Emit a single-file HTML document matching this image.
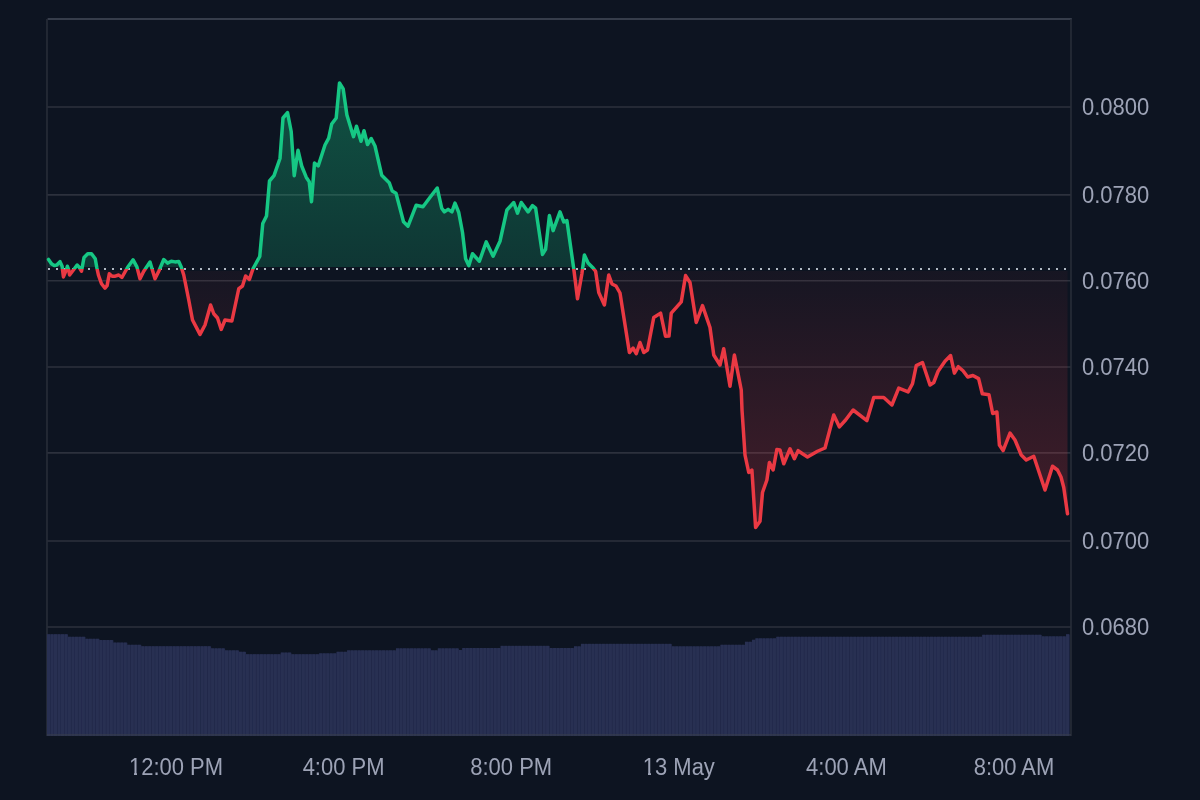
<!DOCTYPE html>
<html><head><meta charset="utf-8"><style>
html,body{margin:0;padding:0;width:1200px;height:800px;overflow:hidden;background:#0d1421;}
svg{position:absolute;left:0;top:0;}
.l{position:absolute;font-family:"Liberation Sans",sans-serif;font-size:22px;color:#9da3b6;white-space:nowrap;line-height:26px;transform:translateZ(0) scaleY(1.06);transform-origin:50% 60%;}
</style></head><body>
<svg width="1200" height="800" viewBox="0 0 1200 800">
<defs>
<linearGradient id="gt" gradientUnits="userSpaceOnUse" x1="0" y1="19" x2="0" y2="269.0">
<stop offset="0" stop-color="#16c784" stop-opacity="0.40"/>
<stop offset="1" stop-color="#16c784" stop-opacity="0.19"/>
</linearGradient>
<linearGradient id="gb" gradientUnits="userSpaceOnUse" x1="0" y1="269.0" x2="0" y2="528">
<stop offset="0" stop-color="#ea3943" stop-opacity="0.04"/>
<stop offset="1" stop-color="#ea3943" stop-opacity="0.25"/>
</linearGradient>
<clipPath id="ct"><rect x="0" y="0" width="1200" height="269.0"/></clipPath>
<clipPath id="cft"><rect x="0" y="0" width="1200" height="267"/></clipPath>
<clipPath id="cfb"><rect x="0" y="271" width="1200" height="529"/></clipPath>
<clipPath id="cb"><rect x="0" y="269.0" width="1200" height="531.0"/></clipPath>
</defs>
<g stroke="#2c313d" stroke-width="1.6" fill="none">
<line x1="47" y1="107" x2="1071" y2="107"/><line x1="47" y1="194.9" x2="1071" y2="194.9"/><line x1="47" y1="280.75" x2="1071" y2="280.75"/><line x1="47" y1="367" x2="1071" y2="367"/><line x1="47" y1="452.9" x2="1071" y2="452.9"/><line x1="47" y1="541" x2="1071" y2="541"/><line x1="47" y1="627" x2="1071" y2="627"/>
</g>
<line x1="47.6" y1="19" x2="1071.8" y2="19" stroke="#454b5a" stroke-width="1.6"/>
<line x1="47" y1="19" x2="47" y2="736" stroke="#282d39" stroke-width="1.6"/>
<line x1="1071" y1="19" x2="1071" y2="736" stroke="#282d39" stroke-width="1.6"/>
<g fill="#20274a">
<rect x="46.90" y="634.5" width="3.69" height="101.5"/>
<rect x="50.39" y="634.5" width="3.69" height="101.5"/>
<rect x="53.88" y="634.5" width="3.69" height="101.5"/>
<rect x="57.37" y="634.5" width="3.69" height="101.5"/>
<rect x="60.86" y="634.5" width="3.69" height="101.5"/>
<rect x="64.35" y="634.5" width="3.69" height="101.5"/>
<rect x="67.84" y="637.0" width="3.69" height="99.0"/>
<rect x="71.33" y="637.0" width="3.69" height="99.0"/>
<rect x="74.82" y="637.0" width="3.69" height="99.0"/>
<rect x="78.31" y="637.0" width="3.69" height="99.0"/>
<rect x="81.80" y="637.0" width="3.69" height="99.0"/>
<rect x="85.29" y="639.0" width="3.69" height="97.0"/>
<rect x="88.78" y="639.0" width="3.69" height="97.0"/>
<rect x="92.27" y="639.0" width="3.69" height="97.0"/>
<rect x="95.76" y="639.0" width="3.69" height="97.0"/>
<rect x="99.25" y="640.3" width="3.69" height="95.7"/>
<rect x="102.74" y="640.3" width="3.69" height="95.7"/>
<rect x="106.23" y="640.3" width="3.69" height="95.7"/>
<rect x="109.72" y="640.3" width="3.69" height="95.7"/>
<rect x="113.21" y="642.8" width="3.69" height="93.2"/>
<rect x="116.70" y="642.8" width="3.69" height="93.2"/>
<rect x="120.19" y="642.8" width="3.69" height="93.2"/>
<rect x="123.68" y="642.8" width="3.69" height="93.2"/>
<rect x="127.17" y="645.0" width="3.69" height="91.0"/>
<rect x="130.66" y="645.0" width="3.69" height="91.0"/>
<rect x="134.15" y="645.0" width="3.69" height="91.0"/>
<rect x="137.64" y="645.0" width="3.69" height="91.0"/>
<rect x="141.13" y="646.5" width="3.69" height="89.5"/>
<rect x="144.62" y="646.5" width="3.69" height="89.5"/>
<rect x="148.11" y="646.5" width="3.69" height="89.5"/>
<rect x="151.60" y="646.5" width="3.69" height="89.5"/>
<rect x="155.09" y="646.5" width="3.69" height="89.5"/>
<rect x="158.58" y="646.5" width="3.69" height="89.5"/>
<rect x="162.07" y="646.5" width="3.69" height="89.5"/>
<rect x="165.56" y="646.5" width="3.69" height="89.5"/>
<rect x="169.05" y="646.5" width="3.69" height="89.5"/>
<rect x="172.54" y="646.5" width="3.69" height="89.5"/>
<rect x="176.03" y="646.5" width="3.69" height="89.5"/>
<rect x="179.52" y="646.5" width="3.69" height="89.5"/>
<rect x="183.01" y="646.5" width="3.69" height="89.5"/>
<rect x="186.50" y="646.5" width="3.69" height="89.5"/>
<rect x="189.99" y="646.5" width="3.69" height="89.5"/>
<rect x="193.48" y="646.5" width="3.69" height="89.5"/>
<rect x="196.97" y="646.5" width="3.69" height="89.5"/>
<rect x="200.46" y="646.5" width="3.69" height="89.5"/>
<rect x="203.95" y="646.5" width="3.69" height="89.5"/>
<rect x="207.44" y="646.5" width="3.69" height="89.5"/>
<rect x="210.93" y="648.6" width="3.69" height="87.4"/>
<rect x="214.42" y="648.6" width="3.69" height="87.4"/>
<rect x="217.91" y="648.6" width="3.69" height="87.4"/>
<rect x="221.40" y="648.6" width="3.69" height="87.4"/>
<rect x="224.89" y="650.6" width="3.69" height="85.4"/>
<rect x="228.38" y="650.6" width="3.69" height="85.4"/>
<rect x="231.87" y="650.6" width="3.69" height="85.4"/>
<rect x="235.36" y="650.6" width="3.69" height="85.4"/>
<rect x="238.85" y="652.0" width="3.69" height="84.0"/>
<rect x="242.34" y="652.0" width="3.69" height="84.0"/>
<rect x="245.83" y="654.5" width="3.69" height="81.5"/>
<rect x="249.32" y="654.5" width="3.69" height="81.5"/>
<rect x="252.81" y="654.5" width="3.69" height="81.5"/>
<rect x="256.30" y="654.5" width="3.69" height="81.5"/>
<rect x="259.79" y="654.5" width="3.69" height="81.5"/>
<rect x="263.28" y="654.5" width="3.69" height="81.5"/>
<rect x="266.77" y="654.5" width="3.69" height="81.5"/>
<rect x="270.26" y="654.5" width="3.69" height="81.5"/>
<rect x="273.75" y="654.5" width="3.69" height="81.5"/>
<rect x="277.24" y="654.5" width="3.69" height="81.5"/>
<rect x="280.73" y="652.8" width="3.69" height="83.2"/>
<rect x="284.22" y="652.8" width="3.69" height="83.2"/>
<rect x="287.71" y="652.8" width="3.69" height="83.2"/>
<rect x="291.20" y="654.5" width="3.69" height="81.5"/>
<rect x="294.69" y="654.5" width="3.69" height="81.5"/>
<rect x="298.18" y="654.5" width="3.69" height="81.5"/>
<rect x="301.67" y="654.5" width="3.69" height="81.5"/>
<rect x="305.16" y="654.5" width="3.69" height="81.5"/>
<rect x="308.65" y="654.5" width="3.69" height="81.5"/>
<rect x="312.14" y="654.5" width="3.69" height="81.5"/>
<rect x="315.63" y="654.5" width="3.69" height="81.5"/>
<rect x="319.12" y="653.6" width="3.69" height="82.4"/>
<rect x="322.61" y="653.6" width="3.69" height="82.4"/>
<rect x="326.10" y="653.6" width="3.69" height="82.4"/>
<rect x="329.59" y="653.6" width="3.69" height="82.4"/>
<rect x="333.08" y="653.6" width="3.69" height="82.4"/>
<rect x="336.57" y="652.0" width="3.69" height="84.0"/>
<rect x="340.06" y="652.0" width="3.69" height="84.0"/>
<rect x="343.55" y="652.0" width="3.69" height="84.0"/>
<rect x="347.04" y="650.6" width="3.69" height="85.4"/>
<rect x="350.53" y="650.6" width="3.69" height="85.4"/>
<rect x="354.02" y="650.6" width="3.69" height="85.4"/>
<rect x="357.51" y="650.6" width="3.69" height="85.4"/>
<rect x="361.00" y="650.6" width="3.69" height="85.4"/>
<rect x="364.49" y="650.6" width="3.69" height="85.4"/>
<rect x="367.98" y="650.6" width="3.69" height="85.4"/>
<rect x="371.47" y="650.6" width="3.69" height="85.4"/>
<rect x="374.96" y="650.6" width="3.69" height="85.4"/>
<rect x="378.45" y="650.6" width="3.69" height="85.4"/>
<rect x="381.94" y="650.6" width="3.69" height="85.4"/>
<rect x="385.43" y="650.6" width="3.69" height="85.4"/>
<rect x="388.92" y="650.6" width="3.69" height="85.4"/>
<rect x="392.41" y="650.6" width="3.69" height="85.4"/>
<rect x="395.90" y="648.6" width="3.69" height="87.4"/>
<rect x="399.39" y="648.6" width="3.69" height="87.4"/>
<rect x="402.88" y="648.6" width="3.69" height="87.4"/>
<rect x="406.37" y="648.6" width="3.69" height="87.4"/>
<rect x="409.86" y="648.6" width="3.69" height="87.4"/>
<rect x="413.35" y="648.6" width="3.69" height="87.4"/>
<rect x="416.84" y="648.6" width="3.69" height="87.4"/>
<rect x="420.33" y="648.6" width="3.69" height="87.4"/>
<rect x="423.82" y="648.6" width="3.69" height="87.4"/>
<rect x="427.31" y="648.6" width="3.69" height="87.4"/>
<rect x="430.80" y="650.6" width="3.69" height="85.4"/>
<rect x="434.29" y="650.6" width="3.69" height="85.4"/>
<rect x="437.78" y="648.6" width="3.69" height="87.4"/>
<rect x="441.27" y="648.6" width="3.69" height="87.4"/>
<rect x="444.76" y="648.6" width="3.69" height="87.4"/>
<rect x="448.25" y="648.6" width="3.69" height="87.4"/>
<rect x="451.74" y="648.6" width="3.69" height="87.4"/>
<rect x="455.23" y="648.6" width="3.69" height="87.4"/>
<rect x="458.72" y="650.3" width="3.69" height="85.7"/>
<rect x="462.21" y="648.3" width="3.69" height="87.7"/>
<rect x="465.70" y="648.3" width="3.69" height="87.7"/>
<rect x="469.19" y="648.3" width="3.69" height="87.7"/>
<rect x="472.68" y="648.3" width="3.69" height="87.7"/>
<rect x="476.17" y="648.3" width="3.69" height="87.7"/>
<rect x="479.66" y="648.3" width="3.69" height="87.7"/>
<rect x="483.15" y="648.3" width="3.69" height="87.7"/>
<rect x="486.64" y="648.3" width="3.69" height="87.7"/>
<rect x="490.13" y="648.3" width="3.69" height="87.7"/>
<rect x="493.62" y="648.3" width="3.69" height="87.7"/>
<rect x="497.11" y="648.3" width="3.69" height="87.7"/>
<rect x="500.60" y="646.1" width="3.69" height="89.9"/>
<rect x="504.09" y="646.1" width="3.69" height="89.9"/>
<rect x="507.58" y="646.1" width="3.69" height="89.9"/>
<rect x="511.07" y="646.1" width="3.69" height="89.9"/>
<rect x="514.56" y="646.1" width="3.69" height="89.9"/>
<rect x="518.05" y="646.1" width="3.69" height="89.9"/>
<rect x="521.54" y="646.1" width="3.69" height="89.9"/>
<rect x="525.03" y="646.1" width="3.69" height="89.9"/>
<rect x="528.52" y="646.1" width="3.69" height="89.9"/>
<rect x="532.01" y="646.1" width="3.69" height="89.9"/>
<rect x="535.50" y="646.1" width="3.69" height="89.9"/>
<rect x="538.99" y="646.1" width="3.69" height="89.9"/>
<rect x="542.48" y="646.1" width="3.69" height="89.9"/>
<rect x="545.97" y="646.1" width="3.69" height="89.9"/>
<rect x="549.46" y="648.3" width="3.69" height="87.7"/>
<rect x="552.95" y="648.3" width="3.69" height="87.7"/>
<rect x="556.44" y="648.3" width="3.69" height="87.7"/>
<rect x="559.93" y="648.3" width="3.69" height="87.7"/>
<rect x="563.42" y="648.3" width="3.69" height="87.7"/>
<rect x="566.91" y="648.3" width="3.69" height="87.7"/>
<rect x="570.40" y="648.3" width="3.69" height="87.7"/>
<rect x="573.89" y="646.6" width="3.69" height="89.4"/>
<rect x="577.38" y="646.6" width="3.69" height="89.4"/>
<rect x="580.87" y="644.1" width="3.69" height="91.9"/>
<rect x="584.36" y="644.1" width="3.69" height="91.9"/>
<rect x="587.85" y="644.1" width="3.69" height="91.9"/>
<rect x="591.34" y="644.1" width="3.69" height="91.9"/>
<rect x="594.83" y="644.1" width="3.69" height="91.9"/>
<rect x="598.32" y="644.1" width="3.69" height="91.9"/>
<rect x="601.81" y="644.1" width="3.69" height="91.9"/>
<rect x="605.30" y="644.1" width="3.69" height="91.9"/>
<rect x="608.79" y="644.1" width="3.69" height="91.9"/>
<rect x="612.28" y="644.1" width="3.69" height="91.9"/>
<rect x="615.77" y="644.1" width="3.69" height="91.9"/>
<rect x="619.26" y="644.1" width="3.69" height="91.9"/>
<rect x="622.75" y="644.1" width="3.69" height="91.9"/>
<rect x="626.24" y="644.1" width="3.69" height="91.9"/>
<rect x="629.73" y="644.1" width="3.69" height="91.9"/>
<rect x="633.22" y="644.1" width="3.69" height="91.9"/>
<rect x="636.71" y="644.1" width="3.69" height="91.9"/>
<rect x="640.20" y="644.1" width="3.69" height="91.9"/>
<rect x="643.69" y="644.1" width="3.69" height="91.9"/>
<rect x="647.18" y="644.1" width="3.69" height="91.9"/>
<rect x="650.67" y="644.1" width="3.69" height="91.9"/>
<rect x="654.16" y="644.1" width="3.69" height="91.9"/>
<rect x="657.65" y="644.1" width="3.69" height="91.9"/>
<rect x="661.14" y="644.1" width="3.69" height="91.9"/>
<rect x="664.63" y="644.1" width="3.69" height="91.9"/>
<rect x="668.12" y="644.1" width="3.69" height="91.9"/>
<rect x="671.61" y="646.6" width="3.69" height="89.4"/>
<rect x="675.10" y="646.6" width="3.69" height="89.4"/>
<rect x="678.59" y="646.6" width="3.69" height="89.4"/>
<rect x="682.08" y="646.6" width="3.69" height="89.4"/>
<rect x="685.57" y="646.6" width="3.69" height="89.4"/>
<rect x="689.06" y="646.6" width="3.69" height="89.4"/>
<rect x="692.55" y="646.6" width="3.69" height="89.4"/>
<rect x="696.04" y="646.6" width="3.69" height="89.4"/>
<rect x="699.53" y="646.6" width="3.69" height="89.4"/>
<rect x="703.02" y="646.6" width="3.69" height="89.4"/>
<rect x="706.51" y="646.6" width="3.69" height="89.4"/>
<rect x="710.00" y="646.6" width="3.69" height="89.4"/>
<rect x="713.49" y="646.6" width="3.69" height="89.4"/>
<rect x="716.98" y="646.6" width="3.69" height="89.4"/>
<rect x="720.47" y="645.0" width="3.69" height="91.0"/>
<rect x="723.96" y="645.0" width="3.69" height="91.0"/>
<rect x="727.45" y="645.0" width="3.69" height="91.0"/>
<rect x="730.94" y="645.0" width="3.69" height="91.0"/>
<rect x="734.43" y="645.0" width="3.69" height="91.0"/>
<rect x="737.92" y="645.0" width="3.69" height="91.0"/>
<rect x="741.41" y="645.0" width="3.69" height="91.0"/>
<rect x="744.90" y="642.0" width="3.69" height="94.0"/>
<rect x="748.39" y="642.0" width="3.69" height="94.0"/>
<rect x="751.88" y="640.0" width="3.69" height="96.0"/>
<rect x="755.37" y="638.6" width="3.69" height="97.4"/>
<rect x="758.86" y="638.6" width="3.69" height="97.4"/>
<rect x="762.35" y="638.6" width="3.69" height="97.4"/>
<rect x="765.84" y="638.6" width="3.69" height="97.4"/>
<rect x="769.33" y="638.6" width="3.69" height="97.4"/>
<rect x="772.82" y="638.6" width="3.69" height="97.4"/>
<rect x="776.31" y="637.0" width="3.69" height="99.0"/>
<rect x="779.80" y="637.0" width="3.69" height="99.0"/>
<rect x="783.29" y="637.0" width="3.69" height="99.0"/>
<rect x="786.78" y="637.0" width="3.69" height="99.0"/>
<rect x="790.27" y="637.0" width="3.69" height="99.0"/>
<rect x="793.76" y="637.0" width="3.69" height="99.0"/>
<rect x="797.25" y="637.0" width="3.69" height="99.0"/>
<rect x="800.74" y="637.0" width="3.69" height="99.0"/>
<rect x="804.23" y="637.0" width="3.69" height="99.0"/>
<rect x="807.72" y="637.0" width="3.69" height="99.0"/>
<rect x="811.21" y="637.0" width="3.69" height="99.0"/>
<rect x="814.70" y="637.0" width="3.69" height="99.0"/>
<rect x="818.19" y="637.0" width="3.69" height="99.0"/>
<rect x="821.68" y="637.0" width="3.69" height="99.0"/>
<rect x="825.17" y="637.0" width="3.69" height="99.0"/>
<rect x="828.66" y="637.0" width="3.69" height="99.0"/>
<rect x="832.15" y="637.0" width="3.69" height="99.0"/>
<rect x="835.64" y="637.0" width="3.69" height="99.0"/>
<rect x="839.13" y="637.0" width="3.69" height="99.0"/>
<rect x="842.62" y="637.0" width="3.69" height="99.0"/>
<rect x="846.11" y="637.0" width="3.69" height="99.0"/>
<rect x="849.60" y="637.0" width="3.69" height="99.0"/>
<rect x="853.09" y="637.0" width="3.69" height="99.0"/>
<rect x="856.58" y="637.0" width="3.69" height="99.0"/>
<rect x="860.07" y="637.0" width="3.69" height="99.0"/>
<rect x="863.56" y="637.0" width="3.69" height="99.0"/>
<rect x="867.05" y="637.0" width="3.69" height="99.0"/>
<rect x="870.54" y="637.0" width="3.69" height="99.0"/>
<rect x="874.03" y="637.0" width="3.69" height="99.0"/>
<rect x="877.52" y="637.0" width="3.69" height="99.0"/>
<rect x="881.01" y="637.0" width="3.69" height="99.0"/>
<rect x="884.50" y="637.0" width="3.69" height="99.0"/>
<rect x="887.99" y="637.0" width="3.69" height="99.0"/>
<rect x="891.48" y="637.0" width="3.69" height="99.0"/>
<rect x="894.97" y="637.0" width="3.69" height="99.0"/>
<rect x="898.46" y="637.0" width="3.69" height="99.0"/>
<rect x="901.95" y="637.0" width="3.69" height="99.0"/>
<rect x="905.44" y="637.0" width="3.69" height="99.0"/>
<rect x="908.93" y="637.0" width="3.69" height="99.0"/>
<rect x="912.42" y="637.0" width="3.69" height="99.0"/>
<rect x="915.91" y="637.0" width="3.69" height="99.0"/>
<rect x="919.40" y="637.0" width="3.69" height="99.0"/>
<rect x="922.89" y="637.0" width="3.69" height="99.0"/>
<rect x="926.38" y="637.0" width="3.69" height="99.0"/>
<rect x="929.87" y="637.0" width="3.69" height="99.0"/>
<rect x="933.36" y="637.0" width="3.69" height="99.0"/>
<rect x="936.85" y="637.0" width="3.69" height="99.0"/>
<rect x="940.34" y="637.0" width="3.69" height="99.0"/>
<rect x="943.83" y="637.0" width="3.69" height="99.0"/>
<rect x="947.32" y="637.0" width="3.69" height="99.0"/>
<rect x="950.81" y="637.0" width="3.69" height="99.0"/>
<rect x="954.30" y="637.0" width="3.69" height="99.0"/>
<rect x="957.79" y="637.0" width="3.69" height="99.0"/>
<rect x="961.28" y="637.0" width="3.69" height="99.0"/>
<rect x="964.77" y="637.0" width="3.69" height="99.0"/>
<rect x="968.26" y="637.0" width="3.69" height="99.0"/>
<rect x="971.75" y="637.0" width="3.69" height="99.0"/>
<rect x="975.24" y="637.0" width="3.69" height="99.0"/>
<rect x="978.73" y="637.0" width="3.69" height="99.0"/>
<rect x="982.22" y="635.0" width="3.69" height="101.0"/>
<rect x="985.71" y="635.0" width="3.69" height="101.0"/>
<rect x="989.20" y="635.0" width="3.69" height="101.0"/>
<rect x="992.69" y="635.0" width="3.69" height="101.0"/>
<rect x="996.18" y="635.0" width="3.69" height="101.0"/>
<rect x="999.67" y="635.0" width="3.69" height="101.0"/>
<rect x="1003.16" y="635.0" width="3.69" height="101.0"/>
<rect x="1006.65" y="635.0" width="3.69" height="101.0"/>
<rect x="1010.14" y="635.0" width="3.69" height="101.0"/>
<rect x="1013.63" y="635.0" width="3.69" height="101.0"/>
<rect x="1017.12" y="635.0" width="3.69" height="101.0"/>
<rect x="1020.61" y="635.0" width="3.69" height="101.0"/>
<rect x="1024.10" y="635.0" width="3.69" height="101.0"/>
<rect x="1027.59" y="635.0" width="3.69" height="101.0"/>
<rect x="1031.08" y="635.0" width="3.69" height="101.0"/>
<rect x="1034.57" y="635.0" width="3.69" height="101.0"/>
<rect x="1038.06" y="635.0" width="3.69" height="101.0"/>
<rect x="1041.55" y="636.6" width="3.69" height="99.4"/>
<rect x="1045.04" y="636.6" width="3.69" height="99.4"/>
<rect x="1048.53" y="636.6" width="3.69" height="99.4"/>
<rect x="1052.02" y="636.6" width="3.69" height="99.4"/>
<rect x="1055.51" y="636.6" width="3.69" height="99.4"/>
<rect x="1059.00" y="636.6" width="3.69" height="99.4"/>
<rect x="1062.49" y="636.6" width="3.69" height="99.4"/>
<rect x="1065.98" y="634.5" width="3.69" height="101.5"/>
</g>
<g fill="#283052">
<rect x="47.00" y="634.2" width="3.04" height="101.8"/>
<rect x="50.49" y="634.2" width="3.04" height="101.8"/>
<rect x="53.98" y="634.2" width="3.04" height="101.8"/>
<rect x="57.47" y="634.2" width="3.04" height="101.8"/>
<rect x="60.96" y="634.2" width="3.04" height="101.8"/>
<rect x="64.45" y="634.2" width="3.04" height="101.8"/>
<rect x="67.94" y="636.7" width="3.04" height="99.3"/>
<rect x="71.43" y="636.7" width="3.04" height="99.3"/>
<rect x="74.92" y="636.7" width="3.04" height="99.3"/>
<rect x="78.41" y="636.7" width="3.04" height="99.3"/>
<rect x="81.90" y="636.7" width="3.04" height="99.3"/>
<rect x="85.39" y="638.7" width="3.04" height="97.3"/>
<rect x="88.88" y="638.7" width="3.04" height="97.3"/>
<rect x="92.37" y="638.7" width="3.04" height="97.3"/>
<rect x="95.86" y="638.7" width="3.04" height="97.3"/>
<rect x="99.35" y="640.0" width="3.04" height="96.0"/>
<rect x="102.84" y="640.0" width="3.04" height="96.0"/>
<rect x="106.33" y="640.0" width="3.04" height="96.0"/>
<rect x="109.82" y="640.0" width="3.04" height="96.0"/>
<rect x="113.31" y="642.5" width="3.04" height="93.5"/>
<rect x="116.80" y="642.5" width="3.04" height="93.5"/>
<rect x="120.29" y="642.5" width="3.04" height="93.5"/>
<rect x="123.78" y="642.5" width="3.04" height="93.5"/>
<rect x="127.27" y="644.7" width="3.04" height="91.3"/>
<rect x="130.76" y="644.7" width="3.04" height="91.3"/>
<rect x="134.25" y="644.7" width="3.04" height="91.3"/>
<rect x="137.74" y="644.7" width="3.04" height="91.3"/>
<rect x="141.23" y="646.2" width="3.04" height="89.8"/>
<rect x="144.72" y="646.2" width="3.04" height="89.8"/>
<rect x="148.21" y="646.2" width="3.04" height="89.8"/>
<rect x="151.70" y="646.2" width="3.04" height="89.8"/>
<rect x="155.19" y="646.2" width="3.04" height="89.8"/>
<rect x="158.68" y="646.2" width="3.04" height="89.8"/>
<rect x="162.17" y="646.2" width="3.04" height="89.8"/>
<rect x="165.66" y="646.2" width="3.04" height="89.8"/>
<rect x="169.15" y="646.2" width="3.04" height="89.8"/>
<rect x="172.64" y="646.2" width="3.04" height="89.8"/>
<rect x="176.13" y="646.2" width="3.04" height="89.8"/>
<rect x="179.62" y="646.2" width="3.04" height="89.8"/>
<rect x="183.11" y="646.2" width="3.04" height="89.8"/>
<rect x="186.60" y="646.2" width="3.04" height="89.8"/>
<rect x="190.09" y="646.2" width="3.04" height="89.8"/>
<rect x="193.58" y="646.2" width="3.04" height="89.8"/>
<rect x="197.07" y="646.2" width="3.04" height="89.8"/>
<rect x="200.56" y="646.2" width="3.04" height="89.8"/>
<rect x="204.05" y="646.2" width="3.04" height="89.8"/>
<rect x="207.54" y="646.2" width="3.04" height="89.8"/>
<rect x="211.03" y="648.3" width="3.04" height="87.7"/>
<rect x="214.52" y="648.3" width="3.04" height="87.7"/>
<rect x="218.01" y="648.3" width="3.04" height="87.7"/>
<rect x="221.50" y="648.3" width="3.04" height="87.7"/>
<rect x="224.99" y="650.3" width="3.04" height="85.7"/>
<rect x="228.48" y="650.3" width="3.04" height="85.7"/>
<rect x="231.97" y="650.3" width="3.04" height="85.7"/>
<rect x="235.46" y="650.3" width="3.04" height="85.7"/>
<rect x="238.95" y="651.7" width="3.04" height="84.3"/>
<rect x="242.44" y="651.7" width="3.04" height="84.3"/>
<rect x="245.93" y="654.2" width="3.04" height="81.8"/>
<rect x="249.42" y="654.2" width="3.04" height="81.8"/>
<rect x="252.91" y="654.2" width="3.04" height="81.8"/>
<rect x="256.40" y="654.2" width="3.04" height="81.8"/>
<rect x="259.89" y="654.2" width="3.04" height="81.8"/>
<rect x="263.38" y="654.2" width="3.04" height="81.8"/>
<rect x="266.87" y="654.2" width="3.04" height="81.8"/>
<rect x="270.36" y="654.2" width="3.04" height="81.8"/>
<rect x="273.85" y="654.2" width="3.04" height="81.8"/>
<rect x="277.34" y="654.2" width="3.04" height="81.8"/>
<rect x="280.83" y="652.5" width="3.04" height="83.5"/>
<rect x="284.32" y="652.5" width="3.04" height="83.5"/>
<rect x="287.81" y="652.5" width="3.04" height="83.5"/>
<rect x="291.30" y="654.2" width="3.04" height="81.8"/>
<rect x="294.79" y="654.2" width="3.04" height="81.8"/>
<rect x="298.28" y="654.2" width="3.04" height="81.8"/>
<rect x="301.77" y="654.2" width="3.04" height="81.8"/>
<rect x="305.26" y="654.2" width="3.04" height="81.8"/>
<rect x="308.75" y="654.2" width="3.04" height="81.8"/>
<rect x="312.24" y="654.2" width="3.04" height="81.8"/>
<rect x="315.73" y="654.2" width="3.04" height="81.8"/>
<rect x="319.22" y="653.3" width="3.04" height="82.7"/>
<rect x="322.71" y="653.3" width="3.04" height="82.7"/>
<rect x="326.20" y="653.3" width="3.04" height="82.7"/>
<rect x="329.69" y="653.3" width="3.04" height="82.7"/>
<rect x="333.18" y="653.3" width="3.04" height="82.7"/>
<rect x="336.67" y="651.7" width="3.04" height="84.3"/>
<rect x="340.16" y="651.7" width="3.04" height="84.3"/>
<rect x="343.65" y="651.7" width="3.04" height="84.3"/>
<rect x="347.14" y="650.3" width="3.04" height="85.7"/>
<rect x="350.63" y="650.3" width="3.04" height="85.7"/>
<rect x="354.12" y="650.3" width="3.04" height="85.7"/>
<rect x="357.61" y="650.3" width="3.04" height="85.7"/>
<rect x="361.10" y="650.3" width="3.04" height="85.7"/>
<rect x="364.59" y="650.3" width="3.04" height="85.7"/>
<rect x="368.08" y="650.3" width="3.04" height="85.7"/>
<rect x="371.57" y="650.3" width="3.04" height="85.7"/>
<rect x="375.06" y="650.3" width="3.04" height="85.7"/>
<rect x="378.55" y="650.3" width="3.04" height="85.7"/>
<rect x="382.04" y="650.3" width="3.04" height="85.7"/>
<rect x="385.53" y="650.3" width="3.04" height="85.7"/>
<rect x="389.02" y="650.3" width="3.04" height="85.7"/>
<rect x="392.51" y="650.3" width="3.04" height="85.7"/>
<rect x="396.00" y="648.3" width="3.04" height="87.7"/>
<rect x="399.49" y="648.3" width="3.04" height="87.7"/>
<rect x="402.98" y="648.3" width="3.04" height="87.7"/>
<rect x="406.47" y="648.3" width="3.04" height="87.7"/>
<rect x="409.96" y="648.3" width="3.04" height="87.7"/>
<rect x="413.45" y="648.3" width="3.04" height="87.7"/>
<rect x="416.94" y="648.3" width="3.04" height="87.7"/>
<rect x="420.43" y="648.3" width="3.04" height="87.7"/>
<rect x="423.92" y="648.3" width="3.04" height="87.7"/>
<rect x="427.41" y="648.3" width="3.04" height="87.7"/>
<rect x="430.90" y="650.3" width="3.04" height="85.7"/>
<rect x="434.39" y="650.3" width="3.04" height="85.7"/>
<rect x="437.88" y="648.3" width="3.04" height="87.7"/>
<rect x="441.37" y="648.3" width="3.04" height="87.7"/>
<rect x="444.86" y="648.3" width="3.04" height="87.7"/>
<rect x="448.35" y="648.3" width="3.04" height="87.7"/>
<rect x="451.84" y="648.3" width="3.04" height="87.7"/>
<rect x="455.33" y="648.3" width="3.04" height="87.7"/>
<rect x="458.82" y="650.0" width="3.04" height="86.0"/>
<rect x="462.31" y="648.0" width="3.04" height="88.0"/>
<rect x="465.80" y="648.0" width="3.04" height="88.0"/>
<rect x="469.29" y="648.0" width="3.04" height="88.0"/>
<rect x="472.78" y="648.0" width="3.04" height="88.0"/>
<rect x="476.27" y="648.0" width="3.04" height="88.0"/>
<rect x="479.76" y="648.0" width="3.04" height="88.0"/>
<rect x="483.25" y="648.0" width="3.04" height="88.0"/>
<rect x="486.74" y="648.0" width="3.04" height="88.0"/>
<rect x="490.23" y="648.0" width="3.04" height="88.0"/>
<rect x="493.72" y="648.0" width="3.04" height="88.0"/>
<rect x="497.21" y="648.0" width="3.04" height="88.0"/>
<rect x="500.70" y="645.8" width="3.04" height="90.2"/>
<rect x="504.19" y="645.8" width="3.04" height="90.2"/>
<rect x="507.68" y="645.8" width="3.04" height="90.2"/>
<rect x="511.17" y="645.8" width="3.04" height="90.2"/>
<rect x="514.66" y="645.8" width="3.04" height="90.2"/>
<rect x="518.15" y="645.8" width="3.04" height="90.2"/>
<rect x="521.64" y="645.8" width="3.04" height="90.2"/>
<rect x="525.13" y="645.8" width="3.04" height="90.2"/>
<rect x="528.62" y="645.8" width="3.04" height="90.2"/>
<rect x="532.11" y="645.8" width="3.04" height="90.2"/>
<rect x="535.60" y="645.8" width="3.04" height="90.2"/>
<rect x="539.09" y="645.8" width="3.04" height="90.2"/>
<rect x="542.58" y="645.8" width="3.04" height="90.2"/>
<rect x="546.07" y="645.8" width="3.04" height="90.2"/>
<rect x="549.56" y="648.0" width="3.04" height="88.0"/>
<rect x="553.05" y="648.0" width="3.04" height="88.0"/>
<rect x="556.54" y="648.0" width="3.04" height="88.0"/>
<rect x="560.03" y="648.0" width="3.04" height="88.0"/>
<rect x="563.52" y="648.0" width="3.04" height="88.0"/>
<rect x="567.01" y="648.0" width="3.04" height="88.0"/>
<rect x="570.50" y="648.0" width="3.04" height="88.0"/>
<rect x="573.99" y="646.3" width="3.04" height="89.7"/>
<rect x="577.48" y="646.3" width="3.04" height="89.7"/>
<rect x="580.97" y="643.8" width="3.04" height="92.2"/>
<rect x="584.46" y="643.8" width="3.04" height="92.2"/>
<rect x="587.95" y="643.8" width="3.04" height="92.2"/>
<rect x="591.44" y="643.8" width="3.04" height="92.2"/>
<rect x="594.93" y="643.8" width="3.04" height="92.2"/>
<rect x="598.42" y="643.8" width="3.04" height="92.2"/>
<rect x="601.91" y="643.8" width="3.04" height="92.2"/>
<rect x="605.40" y="643.8" width="3.04" height="92.2"/>
<rect x="608.89" y="643.8" width="3.04" height="92.2"/>
<rect x="612.38" y="643.8" width="3.04" height="92.2"/>
<rect x="615.87" y="643.8" width="3.04" height="92.2"/>
<rect x="619.36" y="643.8" width="3.04" height="92.2"/>
<rect x="622.85" y="643.8" width="3.04" height="92.2"/>
<rect x="626.34" y="643.8" width="3.04" height="92.2"/>
<rect x="629.83" y="643.8" width="3.04" height="92.2"/>
<rect x="633.32" y="643.8" width="3.04" height="92.2"/>
<rect x="636.81" y="643.8" width="3.04" height="92.2"/>
<rect x="640.30" y="643.8" width="3.04" height="92.2"/>
<rect x="643.79" y="643.8" width="3.04" height="92.2"/>
<rect x="647.28" y="643.8" width="3.04" height="92.2"/>
<rect x="650.77" y="643.8" width="3.04" height="92.2"/>
<rect x="654.26" y="643.8" width="3.04" height="92.2"/>
<rect x="657.75" y="643.8" width="3.04" height="92.2"/>
<rect x="661.24" y="643.8" width="3.04" height="92.2"/>
<rect x="664.73" y="643.8" width="3.04" height="92.2"/>
<rect x="668.22" y="643.8" width="3.04" height="92.2"/>
<rect x="671.71" y="646.3" width="3.04" height="89.7"/>
<rect x="675.20" y="646.3" width="3.04" height="89.7"/>
<rect x="678.69" y="646.3" width="3.04" height="89.7"/>
<rect x="682.18" y="646.3" width="3.04" height="89.7"/>
<rect x="685.67" y="646.3" width="3.04" height="89.7"/>
<rect x="689.16" y="646.3" width="3.04" height="89.7"/>
<rect x="692.65" y="646.3" width="3.04" height="89.7"/>
<rect x="696.14" y="646.3" width="3.04" height="89.7"/>
<rect x="699.63" y="646.3" width="3.04" height="89.7"/>
<rect x="703.12" y="646.3" width="3.04" height="89.7"/>
<rect x="706.61" y="646.3" width="3.04" height="89.7"/>
<rect x="710.10" y="646.3" width="3.04" height="89.7"/>
<rect x="713.59" y="646.3" width="3.04" height="89.7"/>
<rect x="717.08" y="646.3" width="3.04" height="89.7"/>
<rect x="720.57" y="644.7" width="3.04" height="91.3"/>
<rect x="724.06" y="644.7" width="3.04" height="91.3"/>
<rect x="727.55" y="644.7" width="3.04" height="91.3"/>
<rect x="731.04" y="644.7" width="3.04" height="91.3"/>
<rect x="734.53" y="644.7" width="3.04" height="91.3"/>
<rect x="738.02" y="644.7" width="3.04" height="91.3"/>
<rect x="741.51" y="644.7" width="3.04" height="91.3"/>
<rect x="745.00" y="641.7" width="3.04" height="94.3"/>
<rect x="748.49" y="641.7" width="3.04" height="94.3"/>
<rect x="751.98" y="639.7" width="3.04" height="96.3"/>
<rect x="755.47" y="638.3" width="3.04" height="97.7"/>
<rect x="758.96" y="638.3" width="3.04" height="97.7"/>
<rect x="762.45" y="638.3" width="3.04" height="97.7"/>
<rect x="765.94" y="638.3" width="3.04" height="97.7"/>
<rect x="769.43" y="638.3" width="3.04" height="97.7"/>
<rect x="772.92" y="638.3" width="3.04" height="97.7"/>
<rect x="776.41" y="636.7" width="3.04" height="99.3"/>
<rect x="779.90" y="636.7" width="3.04" height="99.3"/>
<rect x="783.39" y="636.7" width="3.04" height="99.3"/>
<rect x="786.88" y="636.7" width="3.04" height="99.3"/>
<rect x="790.37" y="636.7" width="3.04" height="99.3"/>
<rect x="793.86" y="636.7" width="3.04" height="99.3"/>
<rect x="797.35" y="636.7" width="3.04" height="99.3"/>
<rect x="800.84" y="636.7" width="3.04" height="99.3"/>
<rect x="804.33" y="636.7" width="3.04" height="99.3"/>
<rect x="807.82" y="636.7" width="3.04" height="99.3"/>
<rect x="811.31" y="636.7" width="3.04" height="99.3"/>
<rect x="814.80" y="636.7" width="3.04" height="99.3"/>
<rect x="818.29" y="636.7" width="3.04" height="99.3"/>
<rect x="821.78" y="636.7" width="3.04" height="99.3"/>
<rect x="825.27" y="636.7" width="3.04" height="99.3"/>
<rect x="828.76" y="636.7" width="3.04" height="99.3"/>
<rect x="832.25" y="636.7" width="3.04" height="99.3"/>
<rect x="835.74" y="636.7" width="3.04" height="99.3"/>
<rect x="839.23" y="636.7" width="3.04" height="99.3"/>
<rect x="842.72" y="636.7" width="3.04" height="99.3"/>
<rect x="846.21" y="636.7" width="3.04" height="99.3"/>
<rect x="849.70" y="636.7" width="3.04" height="99.3"/>
<rect x="853.19" y="636.7" width="3.04" height="99.3"/>
<rect x="856.68" y="636.7" width="3.04" height="99.3"/>
<rect x="860.17" y="636.7" width="3.04" height="99.3"/>
<rect x="863.66" y="636.7" width="3.04" height="99.3"/>
<rect x="867.15" y="636.7" width="3.04" height="99.3"/>
<rect x="870.64" y="636.7" width="3.04" height="99.3"/>
<rect x="874.13" y="636.7" width="3.04" height="99.3"/>
<rect x="877.62" y="636.7" width="3.04" height="99.3"/>
<rect x="881.11" y="636.7" width="3.04" height="99.3"/>
<rect x="884.60" y="636.7" width="3.04" height="99.3"/>
<rect x="888.09" y="636.7" width="3.04" height="99.3"/>
<rect x="891.58" y="636.7" width="3.04" height="99.3"/>
<rect x="895.07" y="636.7" width="3.04" height="99.3"/>
<rect x="898.56" y="636.7" width="3.04" height="99.3"/>
<rect x="902.05" y="636.7" width="3.04" height="99.3"/>
<rect x="905.54" y="636.7" width="3.04" height="99.3"/>
<rect x="909.03" y="636.7" width="3.04" height="99.3"/>
<rect x="912.52" y="636.7" width="3.04" height="99.3"/>
<rect x="916.01" y="636.7" width="3.04" height="99.3"/>
<rect x="919.50" y="636.7" width="3.04" height="99.3"/>
<rect x="922.99" y="636.7" width="3.04" height="99.3"/>
<rect x="926.48" y="636.7" width="3.04" height="99.3"/>
<rect x="929.97" y="636.7" width="3.04" height="99.3"/>
<rect x="933.46" y="636.7" width="3.04" height="99.3"/>
<rect x="936.95" y="636.7" width="3.04" height="99.3"/>
<rect x="940.44" y="636.7" width="3.04" height="99.3"/>
<rect x="943.93" y="636.7" width="3.04" height="99.3"/>
<rect x="947.42" y="636.7" width="3.04" height="99.3"/>
<rect x="950.91" y="636.7" width="3.04" height="99.3"/>
<rect x="954.40" y="636.7" width="3.04" height="99.3"/>
<rect x="957.89" y="636.7" width="3.04" height="99.3"/>
<rect x="961.38" y="636.7" width="3.04" height="99.3"/>
<rect x="964.87" y="636.7" width="3.04" height="99.3"/>
<rect x="968.36" y="636.7" width="3.04" height="99.3"/>
<rect x="971.85" y="636.7" width="3.04" height="99.3"/>
<rect x="975.34" y="636.7" width="3.04" height="99.3"/>
<rect x="978.83" y="636.7" width="3.04" height="99.3"/>
<rect x="982.32" y="634.7" width="3.04" height="101.3"/>
<rect x="985.81" y="634.7" width="3.04" height="101.3"/>
<rect x="989.30" y="634.7" width="3.04" height="101.3"/>
<rect x="992.79" y="634.7" width="3.04" height="101.3"/>
<rect x="996.28" y="634.7" width="3.04" height="101.3"/>
<rect x="999.77" y="634.7" width="3.04" height="101.3"/>
<rect x="1003.26" y="634.7" width="3.04" height="101.3"/>
<rect x="1006.75" y="634.7" width="3.04" height="101.3"/>
<rect x="1010.24" y="634.7" width="3.04" height="101.3"/>
<rect x="1013.73" y="634.7" width="3.04" height="101.3"/>
<rect x="1017.22" y="634.7" width="3.04" height="101.3"/>
<rect x="1020.71" y="634.7" width="3.04" height="101.3"/>
<rect x="1024.20" y="634.7" width="3.04" height="101.3"/>
<rect x="1027.69" y="634.7" width="3.04" height="101.3"/>
<rect x="1031.18" y="634.7" width="3.04" height="101.3"/>
<rect x="1034.67" y="634.7" width="3.04" height="101.3"/>
<rect x="1038.16" y="634.7" width="3.04" height="101.3"/>
<rect x="1041.65" y="636.3" width="3.04" height="99.7"/>
<rect x="1045.14" y="636.3" width="3.04" height="99.7"/>
<rect x="1048.63" y="636.3" width="3.04" height="99.7"/>
<rect x="1052.12" y="636.3" width="3.04" height="99.7"/>
<rect x="1055.61" y="636.3" width="3.04" height="99.7"/>
<rect x="1059.10" y="636.3" width="3.04" height="99.7"/>
<rect x="1062.59" y="636.3" width="3.04" height="99.7"/>
<rect x="1066.08" y="634.2" width="3.04" height="101.8"/>
</g>
<line x1="47" y1="734.8" x2="1071" y2="734.8" stroke="#3a3f4c" stroke-width="1.8" opacity="0.55"/>
<path d="M48.50,259.40 L51.50,263.75 L54.30,265.60 L56.80,265.00 L60.00,261.60 L62.10,266.25 L63.40,276.90 L66.50,269.40 L67.40,266.25 L68.70,270.00 L69.60,275.00 L73.40,270.00 L77.10,265.00 L79.00,266.90 L81.50,271.25 L84.00,257.50 L87.75,253.75 L91.50,253.75 L95.25,258.75 L96.80,267.50 L98.40,275.00 L101.50,283.75 L105.00,288.10 L107.10,285.60 L109.30,273.75 L112.10,276.25 L115.25,276.20 L118.75,275.00 L121.90,277.50 L127.50,267.50 L133.10,259.80 L136.90,266.90 L140.00,278.80 L143.75,271.25 L150.00,262.00 L155.00,278.80 L158.75,271.25 L163.75,259.50 L167.50,263.10 L171.25,261.25 L175.00,261.90 L178.75,261.50 L181.25,267.00 L183.75,275.00 L188.75,300.00 L192.50,320.00 L200.00,334.40 L205.00,325.00 L210.60,305.00 L213.75,313.75 L217.50,318.00 L221.25,329.40 L225.00,320.00 L231.90,321.00 L238.75,288.75 L242.50,286.00 L245.60,276.00 L249.40,279.40 L253.00,268.75 L259.75,256.50 L262.75,223.50 L266.50,216.00 L269.50,181.00 L274.00,175.70 L280.00,158.50 L283.00,118.00 L287.50,112.70 L291.20,131.50 L294.20,175.70 L298.00,150.20 L301.70,166.00 L306.20,177.20 L309.20,181.70 L311.50,201.70 L314.50,163.00 L318.20,166.00 L325.00,145.00 L328.70,138.20 L331.70,124.00 L336.20,118.00 L339.50,83.00 L343.20,88.90 L346.90,115.00 L353.50,136.70 L356.50,126.20 L361.00,141.20 L364.00,130.70 L367.50,144.50 L371.20,138.50 L375.00,146.00 L381.70,175.20 L389.20,182.70 L392.20,191.00 L396.00,193.20 L403.50,221.70 L408.00,226.20 L416.20,205.20 L423.00,206.70 L429.70,197.70 L437.20,188.00 L441.70,208.20 L444.40,211.90 L448.10,209.40 L451.90,211.90 L455.00,203.10 L458.75,212.50 L462.50,232.50 L465.60,258.75 L468.75,265.60 L472.50,253.75 L479.40,261.25 L486.25,241.90 L493.10,256.25 L500.00,241.25 L506.90,210.00 L513.75,202.50 L517.50,213.10 L521.25,202.50 L528.10,211.90 L532.50,205.60 L535.60,208.10 L542.50,254.40 L545.60,249.40 L549.40,215.60 L553.10,230.60 L560.00,211.90 L563.75,221.90 L566.90,220.60 L573.75,268.75 L577.50,298.75 L581.90,273.75 L584.40,255.00 L588.10,263.10 L593.10,268.10 L595.60,271.25 L598.75,292.50 L604.40,305.00 L608.75,275.00 L612.00,284.00 L616.00,286.00 L620.00,293.00 L629.40,352.50 L633.10,348.10 L636.25,353.75 L640.00,342.50 L643.75,352.50 L647.50,350.00 L653.75,317.50 L660.60,313.10 L665.50,336.25 L669.00,336.00 L671.25,313.10 L681.25,301.90 L685.60,275.60 L690.00,282.50 L696.25,322.50 L702.50,305.60 L710.00,327.50 L713.75,355.00 L720.00,365.00 L723.75,348.75 L730.00,386.25 L734.40,355.00 L741.25,390.00 L742.00,410.00 L745.00,455.00 L748.75,472.50 L751.90,470.00 L755.60,527.50 L760.00,521.25 L762.50,492.50 L766.90,480.00 L769.40,462.50 L773.10,470.00 L776.90,449.40 L780.00,450.00 L783.75,463.75 L790.00,448.75 L794.40,458.75 L798.10,450.60 L802.50,453.75 L807.50,456.90 L817.50,451.25 L825.00,448.00 L833.75,415.00 L839.40,426.90 L845.60,420.00 L853.10,410.00 L866.90,420.60 L873.75,397.50 L883.75,397.50 L891.90,405.00 L898.75,388.10 L908.10,391.90 L912.50,383.75 L916.25,365.60 L922.50,362.50 L930.00,385.00 L933.75,382.50 L938.10,371.25 L945.00,361.25 L950.60,355.60 L954.40,373.10 L958.30,366.70 L963.00,370.80 L967.70,377.00 L972.90,375.50 L978.60,378.60 L982.30,393.75 L989.00,394.80 L992.70,413.50 L996.90,412.00 L999.40,445.00 L1003.10,450.60 L1010.00,433.10 L1015.00,440.00 L1021.25,455.00 L1026.25,460.00 L1033.75,456.25 L1045.00,490.00 L1052.50,466.25 L1057.50,470.00 L1061.00,477.00 L1063.75,487.50 L1067.50,513.75 L1067.50,269.0 L48.50,269.0 Z" fill="url(#gt)" clip-path="url(#cft)"/>
<path d="M48.50,259.40 L51.50,263.75 L54.30,265.60 L56.80,265.00 L60.00,261.60 L62.10,266.25 L63.40,276.90 L66.50,269.40 L67.40,266.25 L68.70,270.00 L69.60,275.00 L73.40,270.00 L77.10,265.00 L79.00,266.90 L81.50,271.25 L84.00,257.50 L87.75,253.75 L91.50,253.75 L95.25,258.75 L96.80,267.50 L98.40,275.00 L101.50,283.75 L105.00,288.10 L107.10,285.60 L109.30,273.75 L112.10,276.25 L115.25,276.20 L118.75,275.00 L121.90,277.50 L127.50,267.50 L133.10,259.80 L136.90,266.90 L140.00,278.80 L143.75,271.25 L150.00,262.00 L155.00,278.80 L158.75,271.25 L163.75,259.50 L167.50,263.10 L171.25,261.25 L175.00,261.90 L178.75,261.50 L181.25,267.00 L183.75,275.00 L188.75,300.00 L192.50,320.00 L200.00,334.40 L205.00,325.00 L210.60,305.00 L213.75,313.75 L217.50,318.00 L221.25,329.40 L225.00,320.00 L231.90,321.00 L238.75,288.75 L242.50,286.00 L245.60,276.00 L249.40,279.40 L253.00,268.75 L259.75,256.50 L262.75,223.50 L266.50,216.00 L269.50,181.00 L274.00,175.70 L280.00,158.50 L283.00,118.00 L287.50,112.70 L291.20,131.50 L294.20,175.70 L298.00,150.20 L301.70,166.00 L306.20,177.20 L309.20,181.70 L311.50,201.70 L314.50,163.00 L318.20,166.00 L325.00,145.00 L328.70,138.20 L331.70,124.00 L336.20,118.00 L339.50,83.00 L343.20,88.90 L346.90,115.00 L353.50,136.70 L356.50,126.20 L361.00,141.20 L364.00,130.70 L367.50,144.50 L371.20,138.50 L375.00,146.00 L381.70,175.20 L389.20,182.70 L392.20,191.00 L396.00,193.20 L403.50,221.70 L408.00,226.20 L416.20,205.20 L423.00,206.70 L429.70,197.70 L437.20,188.00 L441.70,208.20 L444.40,211.90 L448.10,209.40 L451.90,211.90 L455.00,203.10 L458.75,212.50 L462.50,232.50 L465.60,258.75 L468.75,265.60 L472.50,253.75 L479.40,261.25 L486.25,241.90 L493.10,256.25 L500.00,241.25 L506.90,210.00 L513.75,202.50 L517.50,213.10 L521.25,202.50 L528.10,211.90 L532.50,205.60 L535.60,208.10 L542.50,254.40 L545.60,249.40 L549.40,215.60 L553.10,230.60 L560.00,211.90 L563.75,221.90 L566.90,220.60 L573.75,268.75 L577.50,298.75 L581.90,273.75 L584.40,255.00 L588.10,263.10 L593.10,268.10 L595.60,271.25 L598.75,292.50 L604.40,305.00 L608.75,275.00 L612.00,284.00 L616.00,286.00 L620.00,293.00 L629.40,352.50 L633.10,348.10 L636.25,353.75 L640.00,342.50 L643.75,352.50 L647.50,350.00 L653.75,317.50 L660.60,313.10 L665.50,336.25 L669.00,336.00 L671.25,313.10 L681.25,301.90 L685.60,275.60 L690.00,282.50 L696.25,322.50 L702.50,305.60 L710.00,327.50 L713.75,355.00 L720.00,365.00 L723.75,348.75 L730.00,386.25 L734.40,355.00 L741.25,390.00 L742.00,410.00 L745.00,455.00 L748.75,472.50 L751.90,470.00 L755.60,527.50 L760.00,521.25 L762.50,492.50 L766.90,480.00 L769.40,462.50 L773.10,470.00 L776.90,449.40 L780.00,450.00 L783.75,463.75 L790.00,448.75 L794.40,458.75 L798.10,450.60 L802.50,453.75 L807.50,456.90 L817.50,451.25 L825.00,448.00 L833.75,415.00 L839.40,426.90 L845.60,420.00 L853.10,410.00 L866.90,420.60 L873.75,397.50 L883.75,397.50 L891.90,405.00 L898.75,388.10 L908.10,391.90 L912.50,383.75 L916.25,365.60 L922.50,362.50 L930.00,385.00 L933.75,382.50 L938.10,371.25 L945.00,361.25 L950.60,355.60 L954.40,373.10 L958.30,366.70 L963.00,370.80 L967.70,377.00 L972.90,375.50 L978.60,378.60 L982.30,393.75 L989.00,394.80 L992.70,413.50 L996.90,412.00 L999.40,445.00 L1003.10,450.60 L1010.00,433.10 L1015.00,440.00 L1021.25,455.00 L1026.25,460.00 L1033.75,456.25 L1045.00,490.00 L1052.50,466.25 L1057.50,470.00 L1061.00,477.00 L1063.75,487.50 L1067.50,513.75 L1067.50,269.0 L48.50,269.0 Z" fill="url(#gb)" clip-path="url(#cfb)"/>
<line x1="48" y1="269.0" x2="1069" y2="269.0" stroke="#b0b8c2" stroke-width="2" stroke-dasharray="2 6"/>
<path d="M48.50,259.40 L51.50,263.75 L54.30,265.60 L56.80,265.00 L60.00,261.60 L62.10,266.25 L63.40,276.90 L66.50,269.40 L67.40,266.25 L68.70,270.00 L69.60,275.00 L73.40,270.00 L77.10,265.00 L79.00,266.90 L81.50,271.25 L84.00,257.50 L87.75,253.75 L91.50,253.75 L95.25,258.75 L96.80,267.50 L98.40,275.00 L101.50,283.75 L105.00,288.10 L107.10,285.60 L109.30,273.75 L112.10,276.25 L115.25,276.20 L118.75,275.00 L121.90,277.50 L127.50,267.50 L133.10,259.80 L136.90,266.90 L140.00,278.80 L143.75,271.25 L150.00,262.00 L155.00,278.80 L158.75,271.25 L163.75,259.50 L167.50,263.10 L171.25,261.25 L175.00,261.90 L178.75,261.50 L181.25,267.00 L183.75,275.00 L188.75,300.00 L192.50,320.00 L200.00,334.40 L205.00,325.00 L210.60,305.00 L213.75,313.75 L217.50,318.00 L221.25,329.40 L225.00,320.00 L231.90,321.00 L238.75,288.75 L242.50,286.00 L245.60,276.00 L249.40,279.40 L253.00,268.75 L259.75,256.50 L262.75,223.50 L266.50,216.00 L269.50,181.00 L274.00,175.70 L280.00,158.50 L283.00,118.00 L287.50,112.70 L291.20,131.50 L294.20,175.70 L298.00,150.20 L301.70,166.00 L306.20,177.20 L309.20,181.70 L311.50,201.70 L314.50,163.00 L318.20,166.00 L325.00,145.00 L328.70,138.20 L331.70,124.00 L336.20,118.00 L339.50,83.00 L343.20,88.90 L346.90,115.00 L353.50,136.70 L356.50,126.20 L361.00,141.20 L364.00,130.70 L367.50,144.50 L371.20,138.50 L375.00,146.00 L381.70,175.20 L389.20,182.70 L392.20,191.00 L396.00,193.20 L403.50,221.70 L408.00,226.20 L416.20,205.20 L423.00,206.70 L429.70,197.70 L437.20,188.00 L441.70,208.20 L444.40,211.90 L448.10,209.40 L451.90,211.90 L455.00,203.10 L458.75,212.50 L462.50,232.50 L465.60,258.75 L468.75,265.60 L472.50,253.75 L479.40,261.25 L486.25,241.90 L493.10,256.25 L500.00,241.25 L506.90,210.00 L513.75,202.50 L517.50,213.10 L521.25,202.50 L528.10,211.90 L532.50,205.60 L535.60,208.10 L542.50,254.40 L545.60,249.40 L549.40,215.60 L553.10,230.60 L560.00,211.90 L563.75,221.90 L566.90,220.60 L573.75,268.75 L577.50,298.75 L581.90,273.75 L584.40,255.00 L588.10,263.10 L593.10,268.10 L595.60,271.25 L598.75,292.50 L604.40,305.00 L608.75,275.00 L612.00,284.00 L616.00,286.00 L620.00,293.00 L629.40,352.50 L633.10,348.10 L636.25,353.75 L640.00,342.50 L643.75,352.50 L647.50,350.00 L653.75,317.50 L660.60,313.10 L665.50,336.25 L669.00,336.00 L671.25,313.10 L681.25,301.90 L685.60,275.60 L690.00,282.50 L696.25,322.50 L702.50,305.60 L710.00,327.50 L713.75,355.00 L720.00,365.00 L723.75,348.75 L730.00,386.25 L734.40,355.00 L741.25,390.00 L742.00,410.00 L745.00,455.00 L748.75,472.50 L751.90,470.00 L755.60,527.50 L760.00,521.25 L762.50,492.50 L766.90,480.00 L769.40,462.50 L773.10,470.00 L776.90,449.40 L780.00,450.00 L783.75,463.75 L790.00,448.75 L794.40,458.75 L798.10,450.60 L802.50,453.75 L807.50,456.90 L817.50,451.25 L825.00,448.00 L833.75,415.00 L839.40,426.90 L845.60,420.00 L853.10,410.00 L866.90,420.60 L873.75,397.50 L883.75,397.50 L891.90,405.00 L898.75,388.10 L908.10,391.90 L912.50,383.75 L916.25,365.60 L922.50,362.50 L930.00,385.00 L933.75,382.50 L938.10,371.25 L945.00,361.25 L950.60,355.60 L954.40,373.10 L958.30,366.70 L963.00,370.80 L967.70,377.00 L972.90,375.50 L978.60,378.60 L982.30,393.75 L989.00,394.80 L992.70,413.50 L996.90,412.00 L999.40,445.00 L1003.10,450.60 L1010.00,433.10 L1015.00,440.00 L1021.25,455.00 L1026.25,460.00 L1033.75,456.25 L1045.00,490.00 L1052.50,466.25 L1057.50,470.00 L1061.00,477.00 L1063.75,487.50 L1067.50,513.75" fill="none" stroke="#16c784" stroke-width="3.5" stroke-linejoin="round" stroke-linecap="round" clip-path="url(#ct)"/>
<path d="M48.50,259.40 L51.50,263.75 L54.30,265.60 L56.80,265.00 L60.00,261.60 L62.10,266.25 L63.40,276.90 L66.50,269.40 L67.40,266.25 L68.70,270.00 L69.60,275.00 L73.40,270.00 L77.10,265.00 L79.00,266.90 L81.50,271.25 L84.00,257.50 L87.75,253.75 L91.50,253.75 L95.25,258.75 L96.80,267.50 L98.40,275.00 L101.50,283.75 L105.00,288.10 L107.10,285.60 L109.30,273.75 L112.10,276.25 L115.25,276.20 L118.75,275.00 L121.90,277.50 L127.50,267.50 L133.10,259.80 L136.90,266.90 L140.00,278.80 L143.75,271.25 L150.00,262.00 L155.00,278.80 L158.75,271.25 L163.75,259.50 L167.50,263.10 L171.25,261.25 L175.00,261.90 L178.75,261.50 L181.25,267.00 L183.75,275.00 L188.75,300.00 L192.50,320.00 L200.00,334.40 L205.00,325.00 L210.60,305.00 L213.75,313.75 L217.50,318.00 L221.25,329.40 L225.00,320.00 L231.90,321.00 L238.75,288.75 L242.50,286.00 L245.60,276.00 L249.40,279.40 L253.00,268.75 L259.75,256.50 L262.75,223.50 L266.50,216.00 L269.50,181.00 L274.00,175.70 L280.00,158.50 L283.00,118.00 L287.50,112.70 L291.20,131.50 L294.20,175.70 L298.00,150.20 L301.70,166.00 L306.20,177.20 L309.20,181.70 L311.50,201.70 L314.50,163.00 L318.20,166.00 L325.00,145.00 L328.70,138.20 L331.70,124.00 L336.20,118.00 L339.50,83.00 L343.20,88.90 L346.90,115.00 L353.50,136.70 L356.50,126.20 L361.00,141.20 L364.00,130.70 L367.50,144.50 L371.20,138.50 L375.00,146.00 L381.70,175.20 L389.20,182.70 L392.20,191.00 L396.00,193.20 L403.50,221.70 L408.00,226.20 L416.20,205.20 L423.00,206.70 L429.70,197.70 L437.20,188.00 L441.70,208.20 L444.40,211.90 L448.10,209.40 L451.90,211.90 L455.00,203.10 L458.75,212.50 L462.50,232.50 L465.60,258.75 L468.75,265.60 L472.50,253.75 L479.40,261.25 L486.25,241.90 L493.10,256.25 L500.00,241.25 L506.90,210.00 L513.75,202.50 L517.50,213.10 L521.25,202.50 L528.10,211.90 L532.50,205.60 L535.60,208.10 L542.50,254.40 L545.60,249.40 L549.40,215.60 L553.10,230.60 L560.00,211.90 L563.75,221.90 L566.90,220.60 L573.75,268.75 L577.50,298.75 L581.90,273.75 L584.40,255.00 L588.10,263.10 L593.10,268.10 L595.60,271.25 L598.75,292.50 L604.40,305.00 L608.75,275.00 L612.00,284.00 L616.00,286.00 L620.00,293.00 L629.40,352.50 L633.10,348.10 L636.25,353.75 L640.00,342.50 L643.75,352.50 L647.50,350.00 L653.75,317.50 L660.60,313.10 L665.50,336.25 L669.00,336.00 L671.25,313.10 L681.25,301.90 L685.60,275.60 L690.00,282.50 L696.25,322.50 L702.50,305.60 L710.00,327.50 L713.75,355.00 L720.00,365.00 L723.75,348.75 L730.00,386.25 L734.40,355.00 L741.25,390.00 L742.00,410.00 L745.00,455.00 L748.75,472.50 L751.90,470.00 L755.60,527.50 L760.00,521.25 L762.50,492.50 L766.90,480.00 L769.40,462.50 L773.10,470.00 L776.90,449.40 L780.00,450.00 L783.75,463.75 L790.00,448.75 L794.40,458.75 L798.10,450.60 L802.50,453.75 L807.50,456.90 L817.50,451.25 L825.00,448.00 L833.75,415.00 L839.40,426.90 L845.60,420.00 L853.10,410.00 L866.90,420.60 L873.75,397.50 L883.75,397.50 L891.90,405.00 L898.75,388.10 L908.10,391.90 L912.50,383.75 L916.25,365.60 L922.50,362.50 L930.00,385.00 L933.75,382.50 L938.10,371.25 L945.00,361.25 L950.60,355.60 L954.40,373.10 L958.30,366.70 L963.00,370.80 L967.70,377.00 L972.90,375.50 L978.60,378.60 L982.30,393.75 L989.00,394.80 L992.70,413.50 L996.90,412.00 L999.40,445.00 L1003.10,450.60 L1010.00,433.10 L1015.00,440.00 L1021.25,455.00 L1026.25,460.00 L1033.75,456.25 L1045.00,490.00 L1052.50,466.25 L1057.50,470.00 L1061.00,477.00 L1063.75,487.50 L1067.50,513.75" fill="none" stroke="#ea3943" stroke-width="3.5" stroke-linejoin="round" stroke-linecap="round" clip-path="url(#cb)"/>
</svg>
<div class="l" style="left:1082px;top:95.3px">0.0800</div>
<div class="l" style="left:1082px;top:183.2px">0.0780</div>
<div class="l" style="left:1082px;top:269.1px">0.0760</div>
<div class="l" style="left:1082px;top:355.3px">0.0740</div>
<div class="l" style="left:1082px;top:441.2px">0.0720</div>
<div class="l" style="left:1082px;top:529.3px">0.0700</div>
<div class="l" style="left:1082px;top:615.3px">0.0680</div>
<div class="l" style="left:76.0px;width:200px;text-align:center;top:754.5px">12:00 PM</div>
<div class="l" style="left:243.6px;width:200px;text-align:center;top:754.5px">4:00 PM</div>
<div class="l" style="left:411.2px;width:200px;text-align:center;top:754.5px">8:00 PM</div>
<div class="l" style="left:578.8px;width:200px;text-align:center;top:754.5px">13 May</div>
<div class="l" style="left:746.4px;width:200px;text-align:center;top:754.5px">4:00 AM</div>
<div class="l" style="left:914.0px;width:200px;text-align:center;top:754.5px">8:00 AM</div>
<div style="position:absolute;left:129px;top:772.6px;width:5.3px;height:3px;background:#0d1421"></div>
<div style="position:absolute;left:136.8px;top:772.6px;width:4.2px;height:3px;background:#0d1421"></div>
<div style="position:absolute;left:643px;top:772.6px;width:5.2px;height:3px;background:#0d1421"></div>
<div style="position:absolute;left:650.8px;top:772.6px;width:4.2px;height:3px;background:#0d1421"></div>
</body></html>
